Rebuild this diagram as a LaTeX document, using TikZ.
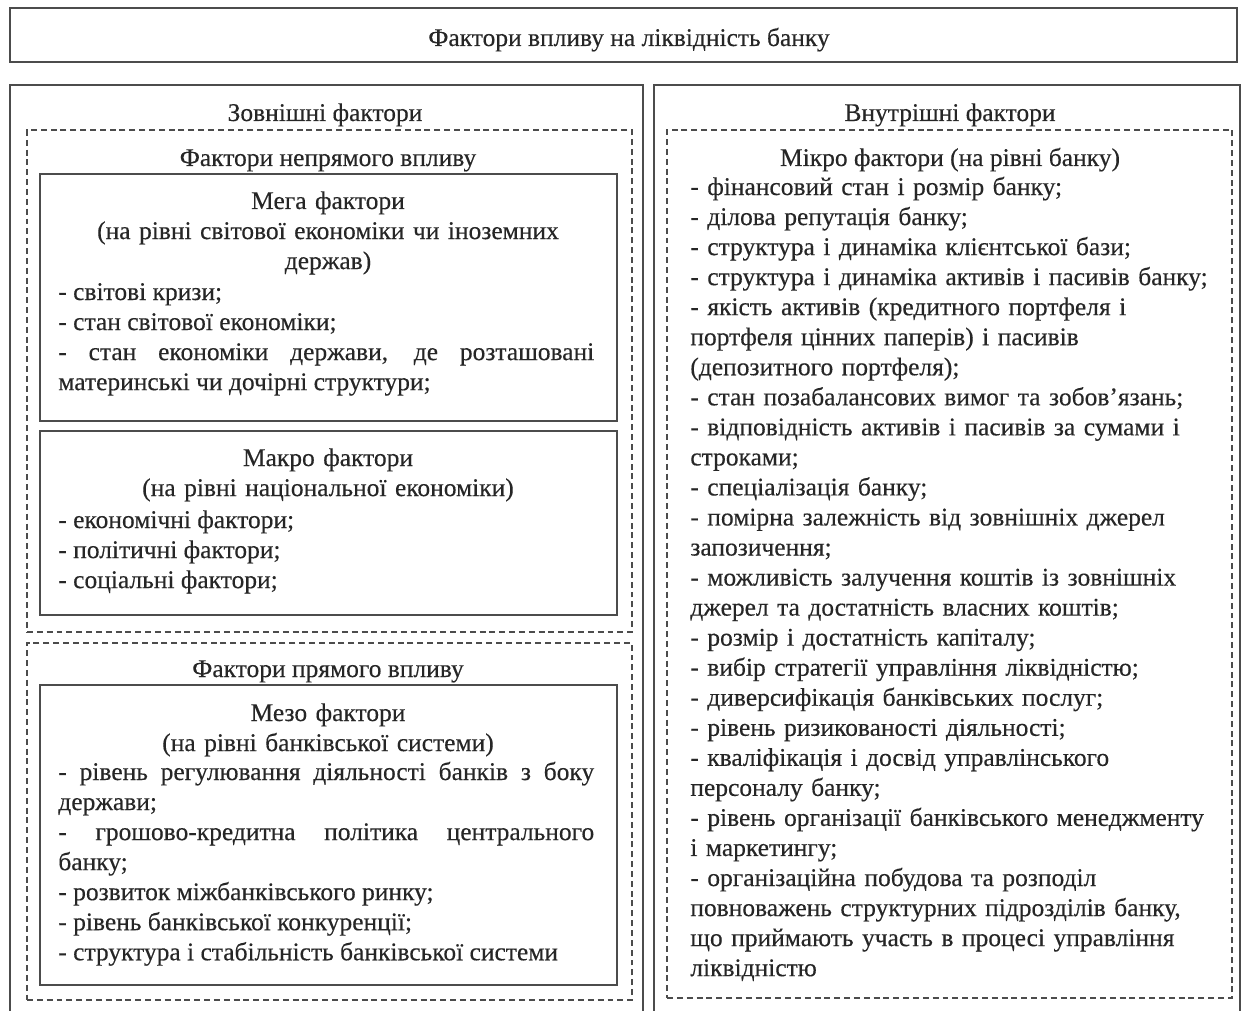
\documentclass[tikz,border=0pt]{standalone}
\usepackage{fontspec}
\setmainfont{Liberation Serif}
\newfontfamily\diagfont{Liberation Serif}[FakeBold=0.35]
\usetikzlibrary{fit}
\hyphenpenalty=10000
\exhyphenpenalty=10000
\tikzset{
  frame/.style={draw=black!70, line width=1.2pt, inner sep=0pt},
  dframe/.style={draw=black!70, line width=0.9pt, dash pattern=on 3.4pt off 2.2pt, inner sep=0pt},
  txt/.style={font=\diagfont\fontsize{14.5}{17.1}\selectfont, text=black!85, inner sep=0pt},
  head/.style={txt, anchor=base, align=center, text width=330pt},
  items/.style={txt, anchor=base west, align=justify, text width=305pt},
  ritems/.style={txt, anchor=base west, align=left, text width=330pt}
}
\begin{document}
\begin{tikzpicture}[x=0.02cm, y=-0.02cm]
  \useasboundingbox (0,0) rectangle (1246,1010);
  % frames
  \node[frame, fit={(10,8) (1237,62)}] (title) {};
  \node[frame, fit={(10,85) (643,1030)}] (ext) {};
  \node[frame, fit={(654,85) (1240,1030)}] (int) {};
  \node[dframe, fit={(27,130) (632,632)}] (indirect) {};
  \node[dframe, fit={(27,643) (632,1000)}] (direct) {};
  \node[dframe, fit={(667,130) (1232,998)}] (micro) {};
  \node[frame, fit={(40,174) (617,421)}] (mega) {};
  \node[frame, fit={(40,431) (617,615)}] (macro) {};
  \node[frame, fit={(40,685) (617,985)}] (mezo) {};

  % headings
  \node[txt, anchor=base] (title-t) at (629,46) {Фактори впливу на ліквідність банку};
  \node[txt, anchor=base] (ext-t) at (325,121) {Зовнішні фактори};
  \node[txt, anchor=base] (int-t) at (950,121) {Внутрішні фактори};
  \node[txt, anchor=base] (indirect-t) at (328,166) {Фактори непрямого впливу};
  \node[txt, anchor=base] (direct-t) at (328,677) {Фактори прямого впливу};

  % mega
  \node[head] (mega-t) at (328,209) {Мега фактори\\(на рівні світової економіки чи іноземних\\держав)};
  \node[items] (mega-l) at (58,300) {- світові кризи;\\- стан світової економіки;\\- стан економіки держави, де розташовані\linebreak материнські чи дочірні структури;};

  % macro
  \node[head] (macro-t) at (328,466) {Макро фактори\\(на рівні національної економіки)};
  \node[items] (macro-l) at (58,528) {- економічні фактори;\\- політичні фактори;\\- соціальні фактори;};

  % mezo
  \node[head] (mezo-t) at (328,721) {Мезо фактори\\(на рівні банківської системи)};
  \node[items] (mezo-l) at (58,780) {- рівень регулювання діяльності банків з боку\linebreak держави;\\- грошово-кредитна політика центрального\linebreak банку;\\- розвиток міжбанківського ринку;\\- рівень банківської конкуренції;\\- структура і стабільність банківської системи};

  % micro
  \node[txt, anchor=base] (micro-t) at (950,166) {Мікро фактори (на рівні банку)};
  \node[ritems] (micro-l) at (690,195) {- фінансовий стан і розмір банку;\\
    - ділова репутація банку;\\
    - структура і динаміка клієнтської бази;\\
    - структура і динаміка активів і пасивів банку;\\
    - якість активів (кредитного портфеля і\\
    портфеля цінних паперів) і пасивів\\
    (депозитного портфеля);\\
    - стан позабалансових вимог та зобов’язань;\\
    - відповідність активів і пасивів за сумами і\\
    строками;\\
    - спеціалізація банку;\\
    - помірна залежність від зовнішніх джерел\\
    запозичення;\\
    - можливість залучення коштів із зовнішніх\\
    джерел та достатність власних коштів;\\
    - розмір і достатність капіталу;\\
    - вибір стратегії управління ліквідністю;\\
    - диверсифікація банківських послуг;\\
    - рівень ризикованості діяльності;\\
    - кваліфікація і досвід управлінського\\
    персоналу банку;\\
    - рівень організації банківського менеджменту\\
    і маркетингу;\\
    - організаційна побудова та розподіл\\
    повноважень структурних підрозділів банку,\\
    що приймають участь в процесі управління\\
    ліквідністю};
\end{tikzpicture}
\end{document}
